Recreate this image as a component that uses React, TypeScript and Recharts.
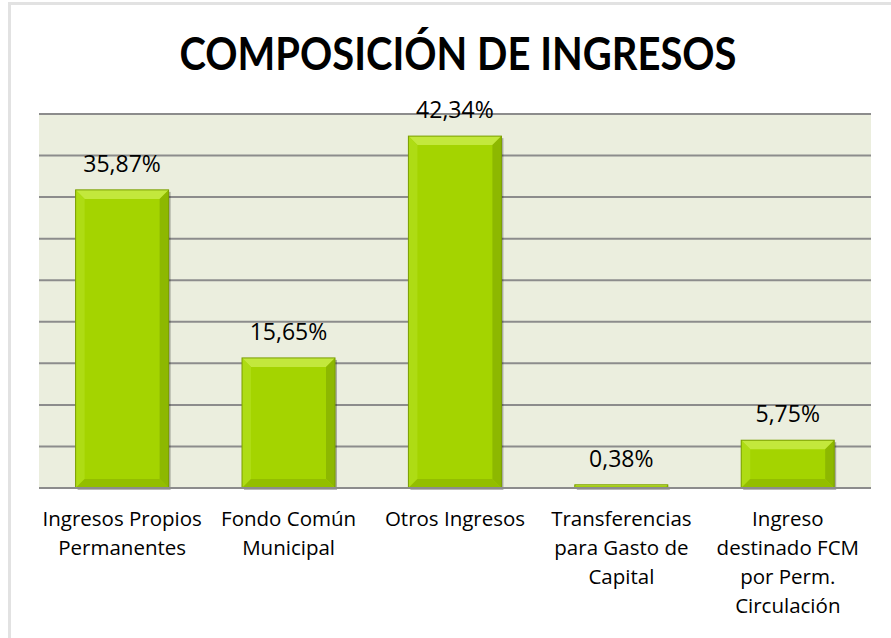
import React from 'react';
import { BarChart, Bar, XAxis, YAxis, CartesianGrid, LabelList } from 'recharts';

const categories = [
  'Ingresos Propios\nPermanentes',
  'Fondo Común\nMunicipal',
  'Otros Ingresos',
  'Transferencias\npara Gasto de\nCapital',
  'Ingreso\ndestinado FCM\npor Perm.\nCirculación',
];
const values = [35.87, 15.65, 42.34, 0.38, 5.75];
const yTicks = [0, 5, 10, 15, 20, 25, 30, 35, 40, 45];
const title = 'COMPOSICIÓN DE INGRESOS';

const data = categories.map((c, i) => ({ name: c, value: values[i] }));

const FONT = '"Open Sans", sans-serif';

const BevelBar = (props: any) => {
  const { x, y, width, height } = props;
  if (width <= 0 || height <= 0) return null;
  const b = Math.min(9, height / 2, width / 2);
  const x2 = x + width;
  const y2 = y + height;
  return (
    <g>
      <rect x={x + 2} y={y + 2} width={width} height={height} fill="rgba(0,0,0,0.28)" />
      <rect x={x} y={y} width={width} height={height} fill="#A4D400" />
      <polygon points={`${x},${y} ${x2},${y} ${x2 - b},${y + b} ${x + b},${y + b}`} fill="#C3E83C" />
      <polygon points={`${x},${y} ${x + b},${y + b} ${x + b},${y2 - b} ${x},${y2}`} fill="#AEDC14" />
      <polygon points={`${x2},${y} ${x2},${y2} ${x2 - b},${y2 - b} ${x2 - b},${y + b}`} fill="#8DB800" />
      <polygon points={`${x},${y2} ${x + b},${y2 - b} ${x2 - b},${y2 - b} ${x2},${y2}`} fill="#93BE00" />
      <rect x={x} y={y} width={width} height={height} fill="none" stroke="#7A9E00" strokeWidth={1} />
    </g>
  );
};

const CatTick = (props: any) => {
  const { x, y, payload } = props;
  const lines = String(payload.value).split('\n');
  return (
    <text x={x} y={y} textAnchor="middle" fontFamily={FONT} fontSize={20.5} fill="#000">
      {lines.map((l, i) => (
        <tspan key={i} x={x} dy={i === 0 ? 38 : 29}>
          {l}
        </tspan>
      ))}
    </text>
  );
};

const fmt = (v: any) => `${Number(v).toFixed(2).replace('.', ',')}%`;

export default function App() {
  return (
    <div style={{ position: 'absolute', left: 0, top: 0, width: 891, height: 638, background: '#fff', overflow: 'hidden' }}>
      <div
        style={{
          position: 'absolute',
          left: 8,
          top: 2,
          width: 900,
          height: 640,
          border: '3px solid #E2E2E2',
          boxSizing: 'border-box',
        }}
      />
      <svg width={891} height={100} style={{ position: 'absolute', left: 0, top: 0 }}>
        <text
          x={458}
          y={70}
          textAnchor="middle"
          fontFamily="Lato, sans-serif"
          fontWeight={700}
          fontSize={46}
          textLength={557}
          lengthAdjust="spacingAndGlyphs"
          fill="#000"
        >
          {title}
        </text>
      </svg>
      <div style={{ position: 'absolute', left: 0, top: 0 }}>
        <BarChart
          width={891}
          height={638}
          data={data}
          margin={{ top: 114, right: 20, left: 39, bottom: 0 }}
          barCategoryGap="22%"
        >
          <CartesianGrid vertical={false} stroke="#8C8C8C" strokeWidth={2} fill="#EBEEDE" />
          <YAxis hide domain={[0, 45]} ticks={yTicks} />
          <XAxis
            dataKey="name"
            height={150}
            tickLine={false}
            tickSize={0}
            tickMargin={0}
            axisLine={{ stroke: '#8C8C8C', strokeWidth: 2 }}
            tick={<CatTick />}
            interval={0}
          />
          <Bar dataKey="value" shape={<BevelBar />} isAnimationActive={false}>
            <LabelList
              dataKey="value"
              position="top"
              offset={18}
              formatter={fmt}
              style={{ fontFamily: FONT, fontSize: 23, fill: '#000' }}
            />
          </Bar>
        </BarChart>
      </div>
    </div>
  );
}
